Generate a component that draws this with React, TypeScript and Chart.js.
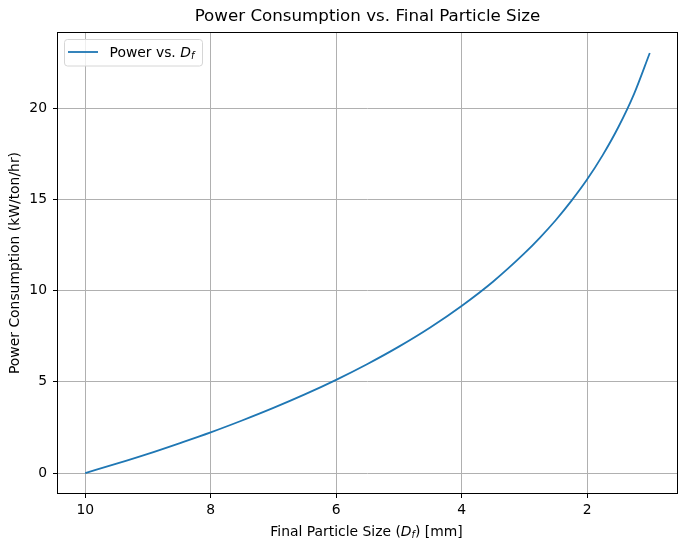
import React, { useEffect, useRef } from "react";
import { Chart, registerables } from "chart.js";

Chart.register(...registerables);

const finalSizes = [10, 9.5, 9, 8.5, 8, 7.5, 7, 6.5, 6, 5.5, 5, 4.5, 4, 3.5, 3, 2.75, 2.5, 2.25, 2, 1.75, 1.5, 1.25, 1];
const powerValues = [0, 0.51, 1.05, 1.63, 2.23, 2.88, 3.57, 4.31, 5.11, 5.98, 6.93, 7.98, 9.16, 10.49, 12.04, 12.91, 13.86, 14.92, 16.09, 17.43, 18.97, 20.79, 23.03];
const xTicks = [10, 8, 6, 4, 2];
const yTicks = [0, 5, 10, 15, 20];

const chartTitle = "Power Consumption vs. Final Particle Size";
const yTitle = "Power Consumption (kW/ton/hr)";
const FONT = "'DejaVu Sans', sans-serif";
const FS = 13.9;

type Part = { text: string; italic?: boolean; sub?: boolean };

function drawRich(ctx: CanvasRenderingContext2D, parts: Part[], x: number, y: number, size: number, align: "left" | "center") {
  const fontOf = (p: Part) => `${p.italic ? "italic " : ""}${p.sub ? size * 0.7 : size}px ${FONT}`;
  let total = 0;
  const widths = parts.map((p) => {
    ctx.font = fontOf(p);
    const w = ctx.measureText(p.text).width;
    total += w;
    return w;
  });
  let cx = align === "center" ? x - total / 2 : x;
  ctx.textBaseline = "alphabetic";
  ctx.textAlign = "left";
  const base = y + size * 0.36;
  parts.forEach((p, i) => {
    ctx.font = fontOf(p);
    ctx.fillText(p.text, cx, p.sub ? base + size * 0.2 : base);
    cx += widths[i];
  });
}

const decorPlugin = {
  id: "decor",
  afterDatasetsDraw(chart: any) {
    const { ctx, chartArea } = chart;
    const { left, right, top, bottom } = chartArea;
    ctx.save();
    // frame
    ctx.strokeStyle = "#000";
    ctx.lineWidth = 1;
    ctx.strokeRect(left + 0.5, top + 0.5, right - left - 1, bottom - top - 1);
    // title
    ctx.fillStyle = "#000";
    ctx.font = `16.7px ${FONT}`;
    ctx.textAlign = "center";
    ctx.textBaseline = "middle";
    ctx.fillText(chartTitle, (left + right) / 2, 17);
    // x axis title
    drawRich(
      ctx,
      [
        { text: "Final Particle Size (" },
        { text: "D", italic: true },
        { text: "f", italic: true, sub: true },
        { text: ") [mm]" },
      ],
      (left + right) / 2 - 1,
      530.5,
      FS,
      "center"
    );
    // legend
    const bx = 64.5, by = 39.5, bw = 138, bh = 26.5, r = 3;
    ctx.beginPath();
    ctx.moveTo(bx + r, by);
    ctx.arcTo(bx + bw, by, bx + bw, by + bh, r);
    ctx.arcTo(bx + bw, by + bh, bx, by + bh, r);
    ctx.arcTo(bx, by + bh, bx, by, r);
    ctx.arcTo(bx, by, bx + bw, by, r);
    ctx.closePath();
    ctx.fillStyle = "rgba(255,255,255,0.8)";
    ctx.fill();
    ctx.strokeStyle = "#d6d6d6";
    ctx.lineWidth = 1;
    ctx.stroke();
    ctx.beginPath();
    ctx.moveTo(68, 52);
    ctx.lineTo(98, 52);
    ctx.strokeStyle = "#1f77b4";
    ctx.lineWidth = 1.8;
    ctx.stroke();
    ctx.fillStyle = "#000";
    drawRich(
      ctx,
      [
        { text: "Power vs. " },
        { text: "D", italic: true },
        { text: "f", italic: true, sub: true },
      ],
      109.5,
      51.5,
      FS,
      "left"
    );
    ctx.restore();
  },
};

export default function App() {
  const ref = useRef<HTMLCanvasElement | null>(null);
  useEffect(() => {
    if (!ref.current) return;
    const chart = new Chart(ref.current, {
      type: "line",
      data: {
        datasets: [
          {
            label: "Power vs. Df",
            data: finalSizes.map((x, i) => ({ x, y: powerValues[i] })),
            borderColor: "#1f77b4",
            borderWidth: 1.8,
            pointRadius: 0,
            cubicInterpolationMode: "monotone",
            fill: false,
          },
        ],
      },
      options: {
        responsive: false,
        animation: false,
        layout: { padding: { top: 32, right: 8, left: 0, bottom: 0 } },
        plugins: {
          legend: { display: false },
          title: { display: false },
          tooltip: { enabled: false },
        },
        scales: {
          x: {
            type: "linear",
            reverse: true,
            min: 0.55,
            max: 10.45,
            afterBuildTicks: (s: any) => {
              s.ticks = xTicks.map((v) => ({ value: v }));
            },
            afterFit: (s: any) => {
              s.height = 56;
            },
            grid: { color: "#b0b0b0", lineWidth: 1, tickColor: "#000", tickLength: 4, drawTicks: true },
            border: { display: false },
            ticks: {
              color: "#000",
              font: { family: FONT, size: FS },
              padding: 4,
              maxRotation: 0,
              autoSkip: false,
            },
          },
          y: {
            type: "linear",
            min: -1.15,
            max: 24.18,
            afterBuildTicks: (s: any) => {
              s.ticks = yTicks.map((v) => ({ value: v }));
            },
            afterFit: (s: any) => {
              s.width = 57;
            },
            grid: { color: "#b0b0b0", lineWidth: 1, tickColor: "#000", tickLength: 4, drawTicks: true },
            border: { display: false },
            ticks: {
              color: "#000",
              font: { family: FONT, size: FS },
              padding: 6,
              autoSkip: false,
            },
            title: {
              display: true,
              text: yTitle,
              color: "#000",
              font: { family: FONT, size: FS },
              padding: { top: 7.5, bottom: 0 },
            },
          },
        },
      },
      plugins: [decorPlugin],
    } as any);
    return () => chart.destroy();
  }, []);
  return (
    <canvas
      ref={ref}
      width={686}
      height={550}
      style={{ position: "absolute", left: 0, top: 0, width: 686, height: 550 }}
    />
  );
}
